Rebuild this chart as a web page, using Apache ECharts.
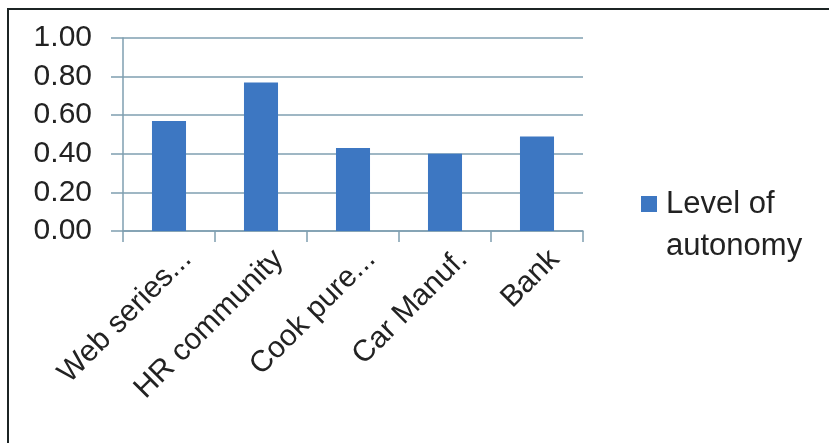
<!DOCTYPE html>
<html>
<head>
<meta charset="utf-8">
<script src="https://cdn.jsdelivr.net/npm/echarts@6/dist/echarts.min.js"></script>
<style>
  html, body { margin: 0; padding: 0; background: #ffffff; }
  #chart { width: 829px; height: 443px; position: absolute; left: 0; top: 0; }
  #frame { position: absolute; left: 7px; top: 8px; width: 822px; height: 435px;
           border-left: 2px solid #1c2424; border-top: 2px solid #1c2424; box-sizing: border-box; pointer-events: none; }
</style>
</head>
<body>
<div id="chart"></div>
<div id="frame"></div>
<script>
const categories = ['Web series...', 'HR community', 'Cook pure...', 'Car Manuf.', 'Bank'];
const autonomyValues = [0.57, 0.77, 0.43, 0.40, 0.49];
const seriesName = 'Level of\nautonomy';
const yTicks = { min: 0, max: 1, interval: 0.2 };

const chart = echarts.init(document.getElementById('chart'), null, { renderer: 'canvas' });
const axisColor = '#7f9fb0';
const font = 'Liberation Sans, Arial, sans-serif';

chart.setOption({
  backgroundColor: '#ffffff',
  animation: false,
  grid: { left: 123, right: 246, top: 38, bottom: 212, containLabel: false },
  legend: {
    left: 636, top: 178,
    itemWidth: 16, itemHeight: 58, itemGap: 10,
    icon: 'path://M0,0h16v16h-16z M0,57.99h0.01v0.01h-0.01z',
    data: [seriesName],
    textStyle: { fontFamily: font, fontSize: 31, color: '#222222', lineHeight: 42, padding: [0, 0, 0, 4] }
  },
  xAxis: {
    type: 'category',
    data: categories,
    boundaryGap: true,
    axisLine: { show: true, lineStyle: { color: axisColor, width: 1.5 } },
    axisTick: { show: true, length: 11, alignWithLabel: false, lineStyle: { color: axisColor, width: 1.5 } },
    axisLabel: { rotate: 45, margin: 6, verticalAlign: 'top', padding: [10, 0, 0, 0],
                 fontFamily: font, fontSize: 30, color: '#222222', interval: 0 }
  },
  yAxis: {
    type: 'value',
    min: yTicks.min, max: yTicks.max, interval: yTicks.interval,
    axisLine: { show: true, lineStyle: { color: axisColor, width: 1.5 } },
    axisTick: { show: true, length: 12, lineStyle: { color: axisColor, width: 1.5 } },
    splitLine: { show: true, lineStyle: { color: axisColor, width: 1.5 } },
    axisLabel: { margin: 31, fontFamily: font, fontSize: 30, color: '#222222',
                 formatter: v => v.toFixed(2) }
  },
  series: [{
    name: seriesName,
    type: 'bar',
    data: autonomyValues,
    barWidth: '37%',
    itemStyle: { color: '#3d77c2' }
  }]
});
</script>
</body>
</html>
